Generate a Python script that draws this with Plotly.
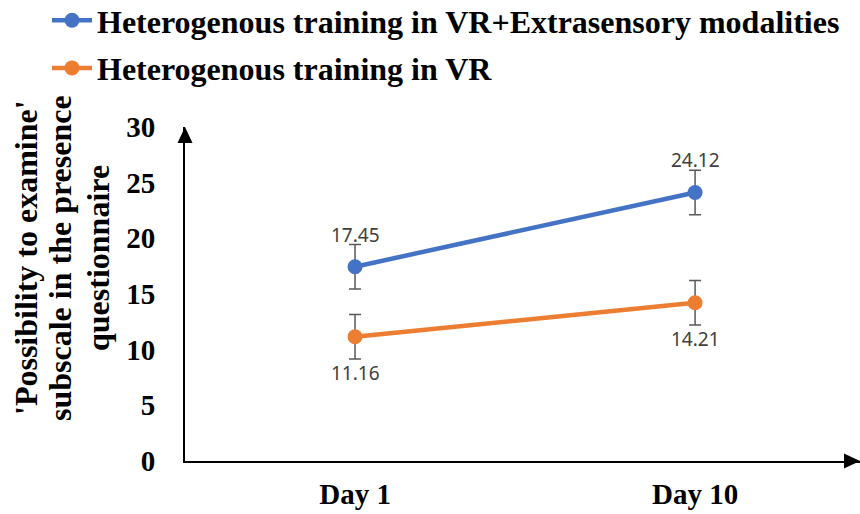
import plotly.graph_objects as go

categories = ["Day 1", "Day 10"]
series_names = ["Heterogenous training in VR+Extrasensory modalities",
                "Heterogenous training in VR"]
vr_extra = [17.45, 24.12]
vr_only = [11.16, 14.21]
vr_extra_err = [2.0, 2.0]
vr_only_err = [2.0, 2.0]
y_ticks = [0, 5, 10, 15, 20, 25, 30]
y_title_lines = ["'Possibility to examine'", "subscale in the presence", "questionnaire"]

colors = ["#4472C4", "#ED7D31"]
values = [vr_extra, vr_only]
errors = [vr_extra_err, vr_only_err]
label_shift = [32, -36]

W, H = 860, 514
ML, MT = 185, 127
MR = 0
MB = 514 - 461
pw = W - ML - MR
ph = H - MT - MB

fig = go.Figure()
for i in range(2):
    fig.add_trace(go.Scatter(
        x=categories, y=values[i], name=series_names[i], mode="lines+markers",
        line=dict(color=colors[i], width=4.5),
        marker=dict(color=colors[i], size=15),
        error_y=dict(type="data", array=errors[i], color="#595959", thickness=1.5, width=6),
        legendgroup=f"g{i}",
    ))
    for c, v in zip(categories, values[i]):
        fig.add_annotation(x=c, y=v, text=f"{v:.2f}", showarrow=False,
                           yshift=label_shift[i], xref="x", yref="y",
                           font=dict(family="Noto Sans", size=19, color="#404040"))

title_x_px = [26, 60, 98]
for line, px in zip(y_title_lines, title_x_px):
    fig.add_annotation(text=line, xref="paper", yref="paper",
                       x=(px - ML) / pw, y=(461 - 258) / ph, textangle=-90,
                       showarrow=False, xanchor="center", yanchor="middle",
                       font=dict(family="Liberation Serif", size=32, color="black",
                                 weight="bold"))

# axis arrowheads
fig.add_shape(type="path", xref="paper", yref="paper", xsizemode="pixel", ysizemode="pixel",
              xanchor=1, yanchor=0, path="M -16,-7.5 L 0,0 L -16,7.5 Z",
              fillcolor="black", line=dict(width=0))
fig.add_shape(type="path", xref="paper", yref="paper", xsizemode="pixel", ysizemode="pixel",
              xanchor=0, yanchor=1, path="M -7.5,-16 L 0,0 L 7.5,-16 Z",
              fillcolor="black", line=dict(width=0))

fig.update_layout(
    width=W, height=H,
    margin=dict(l=ML, r=MR, t=MT, b=MB, autoexpand=False),
    paper_bgcolor="white", plot_bgcolor="white",
    showlegend=True,
    legend=dict(x=(47 - ML) / pw, y=1 + (MT + 7) / ph, xanchor="left", yanchor="top",
                font=dict(family="Liberation Serif", size=32, color="black", weight="bold"),
                tracegroupgap=3, bgcolor="rgba(0,0,0,0)", itemwidth=40,
                traceorder="grouped"),
    xaxis=dict(type="category", categoryorder="array", categoryarray=categories,
               range=[-0.5, 1.485], showgrid=False, zeroline=False,
               showline=True, linecolor="black", linewidth=2, ticks="",
               tickfont=dict(family="Liberation Serif", size=29, color="black", weight="bold"),
               ticklabelstandoff=6),
    yaxis=dict(range=[0, 30], tickvals=y_ticks, showgrid=False, zeroline=False,
               showline=True, linecolor="black", linewidth=2, ticks="",
               tickfont=dict(family="Liberation Serif", size=29, color="black", weight="bold"),
               ticklabelstandoff=22),
)

fig.write_html("out.html", config={"displayModeBar": False},
               post_script="document.body.style.margin='0';document.body.style.overflow='hidden';")
